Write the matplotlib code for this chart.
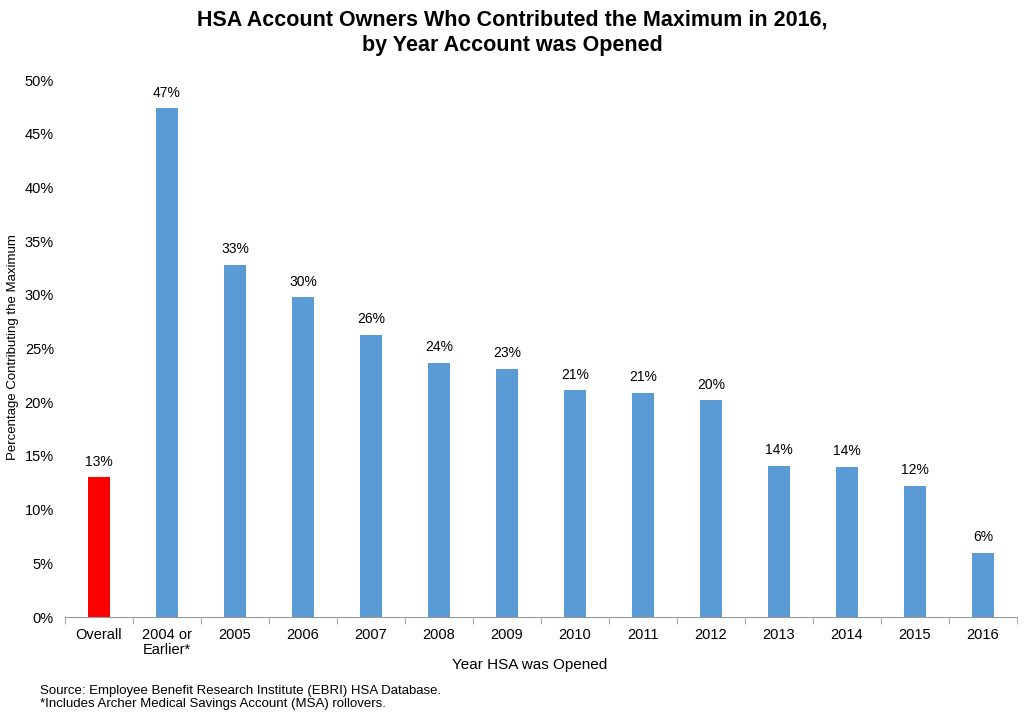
import matplotlib.pyplot as plt
import numpy as np

categories = ['Overall', '2004 or\nEarlier*', '2005', '2006', '2007', '2008', '2009',
              '2010', '2011', '2012', '2013', '2014', '2015', '2016']
values = [13.0, 47.4, 32.8, 29.8, 26.3, 23.7, 23.1, 21.1, 20.9, 20.2, 14.1, 14.0, 12.2, 6.0]
labels = ['13%', '47%', '33%', '30%', '26%', '24%', '23%', '21%', '21%', '20%',
          '14%', '14%', '12%', '6%']

plt.rcParams['font.family'] = ['Liberation Sans', 'DejaVu Sans']

fig = plt.figure(figsize=(10.24, 7.23), dpi=100)
ax = fig.add_axes([0.0635, 0.1466, 0.9295, 0.7424])

x = np.arange(len(categories))
colors = ['#ff0000'] + ['#5b9bd5'] * (len(categories) - 1)
bars = ax.bar(x, values, width=0.33, color=colors, zorder=2)
for b, lab in zip(bars, labels):
    ax.text(b.get_x() + b.get_width() / 2, b.get_height() + 0.8, lab,
            ha='center', va='bottom', fontsize=10)

ax.set_xlim(-0.5, len(categories) - 0.5)
ax.set_ylim(0, 50)
ax.set_yticks(np.arange(0, 51, 5))
ax.set_yticklabels([f'{v}%' for v in range(0, 51, 5)], fontsize=10.5)
ax.set_xticks(x)
ax.set_xticklabels(categories, fontsize=10.5, linespacing=1.1)
ax.tick_params(axis='x', length=0, pad=8)
ax.tick_params(axis='y', length=0, pad=8)
ax.set_xticks(np.arange(-0.5, len(categories), 1), minor=True)
ax.tick_params(axis='x', which='minor', length=5, color='#999999')

for s in ['top', 'right', 'left']:
    ax.spines[s].set_visible(False)
ax.spines['bottom'].set_color('#999999')

fig.text(0.517, 0.08, 'Year HSA was Opened', ha='center', va='center', fontsize=11)
fig.text(0.013, 0.52, 'Percentage Contributing the Maximum', ha='center', va='center',
         rotation=90, fontsize=9.5)

fig.text(0.5, 0.955, 'HSA Account Owners Who Contributed the Maximum in 2016,\nby Year Account was Opened',
         ha='center', va='center', fontsize=15.5, fontweight='bold', linespacing=1.25)
fig.text(0.039, 0.035, 'Source: Employee Benefit Research Institute (EBRI) HSA Database.\n'
         '*Includes Archer Medical Savings Account (MSA) rollovers.',
         ha='left', va='center', fontsize=9.5, linespacing=1.15)

fig.savefig('out.png', dpi=100)
